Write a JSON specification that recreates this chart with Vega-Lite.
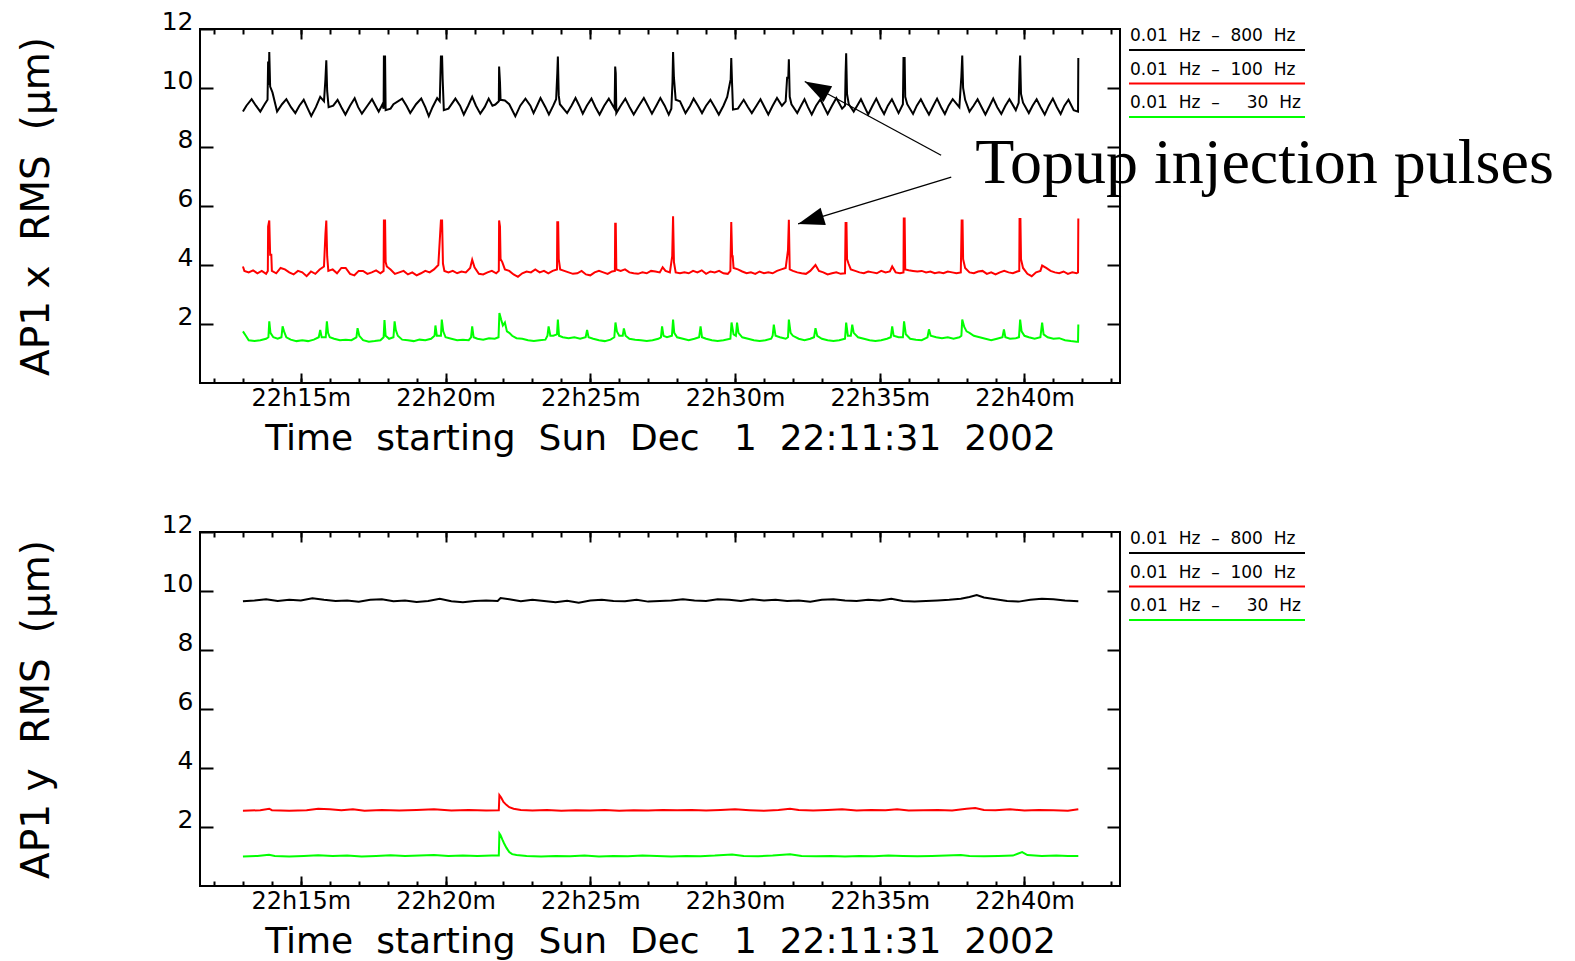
{
  "$schema": "https://vega.github.io/schema/vega-lite/v6.json",
  "padding": {"left": 15, "top": 8, "right": 5, "bottom": 5},
  "background": "white",
  "config": {
    "font": "DejaVu Sans",
    "view": {"stroke": "#000000", "strokeWidth": 2},
    "axis": {"grid": false, "domain": false, "tickColor": "#000000", "tickWidth": 2, "labelColor": "#000000", "titleColor": "#000000", "titleFontWeight": "normal", "labelOverlap": false, "labelFlush": false, "labelFont": "DejaVu Sans", "titleFont": "DejaVu Sans"}
  },
  "datasets": {
    "x800": [{"t":13.00,"v":9.20},{"t":13.12,"v":9.40},{"t":13.30,"v":9.62},{"t":13.45,"v":9.40},{"t":13.60,"v":9.20},{"t":13.75,"v":9.45},{"t":13.85,"v":9.60},{"t":13.87,"v":10.90},{"t":13.89,"v":10.10},{"t":13.91,"v":11.22},{"t":13.94,"v":10.05},{"t":14.02,"v":9.85},{"t":14.18,"v":9.20},{"t":14.35,"v":9.45},{"t":14.50,"v":9.62},{"t":14.66,"v":9.35},{"t":14.81,"v":9.15},{"t":14.95,"v":9.40},{"t":15.10,"v":9.60},{"t":15.24,"v":9.30},{"t":15.36,"v":9.05},{"t":15.52,"v":9.35},{"t":15.67,"v":9.70},{"t":15.80,"v":9.55},{"t":15.85,"v":10.30},{"t":15.88,"v":10.94},{"t":15.91,"v":9.90},{"t":15.96,"v":9.35},{"t":16.12,"v":9.40},{"t":16.27,"v":9.60},{"t":16.40,"v":9.35},{"t":16.54,"v":9.10},{"t":16.70,"v":9.40},{"t":16.86,"v":9.65},{"t":16.98,"v":9.35},{"t":17.11,"v":9.13},{"t":17.30,"v":9.40},{"t":17.46,"v":9.62},{"t":17.58,"v":9.40},{"t":17.69,"v":9.20},{"t":17.82,"v":9.45},{"t":17.86,"v":9.30},{"t":17.87,"v":11.07},{"t":17.91,"v":11.07},{"t":17.93,"v":9.25},{"t":18.10,"v":9.30},{"t":18.20,"v":9.45},{"t":18.50,"v":9.64},{"t":18.65,"v":9.40},{"t":18.78,"v":9.15},{"t":18.98,"v":9.45},{"t":19.16,"v":9.64},{"t":19.30,"v":9.35},{"t":19.42,"v":9.05},{"t":19.55,"v":9.35},{"t":19.71,"v":9.66},{"t":19.80,"v":9.55},{"t":19.84,"v":11.07},{"t":19.88,"v":11.07},{"t":19.90,"v":10.30},{"t":19.94,"v":9.25},{"t":20.10,"v":9.30},{"t":20.34,"v":9.64},{"t":20.50,"v":9.40},{"t":20.63,"v":9.10},{"t":20.78,"v":9.40},{"t":20.92,"v":9.70},{"t":21.05,"v":9.40},{"t":21.20,"v":9.13},{"t":21.35,"v":9.35},{"t":21.49,"v":9.64},{"t":21.62,"v":9.40},{"t":21.72,"v":9.44},{"t":21.84,"v":9.55},{"t":21.85,"v":10.73},{"t":21.88,"v":10.20},{"t":21.90,"v":9.60},{"t":22.05,"v":9.58},{"t":22.20,"v":9.45},{"t":22.41,"v":9.04},{"t":22.58,"v":9.40},{"t":22.76,"v":9.64},{"t":22.93,"v":9.40},{"t":23.04,"v":9.15},{"t":23.16,"v":9.40},{"t":23.28,"v":9.66},{"t":23.45,"v":9.35},{"t":23.57,"v":9.10},{"t":23.72,"v":9.40},{"t":23.82,"v":9.62},{"t":23.86,"v":10.50},{"t":23.88,"v":11.07},{"t":23.91,"v":9.75},{"t":23.95,"v":9.45},{"t":24.20,"v":9.15},{"t":24.35,"v":9.40},{"t":24.49,"v":9.66},{"t":24.62,"v":9.40},{"t":24.74,"v":9.13},{"t":24.88,"v":9.40},{"t":25.04,"v":9.64},{"t":25.18,"v":9.35},{"t":25.32,"v":9.10},{"t":25.48,"v":9.40},{"t":25.64,"v":9.64},{"t":25.78,"v":9.40},{"t":25.84,"v":9.30},{"t":25.86,"v":10.73},{"t":25.88,"v":10.50},{"t":25.90,"v":9.15},{"t":26.05,"v":9.40},{"t":26.21,"v":9.64},{"t":26.36,"v":9.35},{"t":26.50,"v":9.10},{"t":26.68,"v":9.40},{"t":26.85,"v":9.66},{"t":26.99,"v":9.40},{"t":27.13,"v":9.13},{"t":27.28,"v":9.40},{"t":27.42,"v":9.66},{"t":27.57,"v":9.40},{"t":27.71,"v":9.10},{"t":27.80,"v":9.30},{"t":27.84,"v":10.20},{"t":27.86,"v":11.22},{"t":27.89,"v":10.35},{"t":27.95,"v":9.60},{"t":28.10,"v":9.55},{"t":28.29,"v":9.15},{"t":28.45,"v":9.40},{"t":28.57,"v":9.64},{"t":28.72,"v":9.40},{"t":28.86,"v":9.15},{"t":29.00,"v":9.40},{"t":29.15,"v":9.60},{"t":29.30,"v":9.35},{"t":29.44,"v":9.10},{"t":29.60,"v":9.40},{"t":29.73,"v":9.70},{"t":29.85,"v":10.30},{"t":29.87,"v":11.02},{"t":29.90,"v":10.10},{"t":29.93,"v":9.27},{"t":30.10,"v":9.30},{"t":30.30,"v":9.60},{"t":30.45,"v":9.35},{"t":30.58,"v":9.15},{"t":30.74,"v":9.40},{"t":30.88,"v":9.62},{"t":31.02,"v":9.35},{"t":31.15,"v":9.10},{"t":31.30,"v":9.40},{"t":31.45,"v":9.66},{"t":31.62,"v":9.40},{"t":31.75,"v":9.55},{"t":31.80,"v":10.35},{"t":31.84,"v":10.35},{"t":31.86,"v":10.97},{"t":31.89,"v":9.70},{"t":31.95,"v":9.45},{"t":32.15,"v":9.15},{"t":32.28,"v":9.40},{"t":32.40,"v":9.62},{"t":32.52,"v":9.35},{"t":32.65,"v":9.10},{"t":32.80,"v":9.40},{"t":32.95,"v":9.62},{"t":33.08,"v":9.35},{"t":33.20,"v":9.12},{"t":33.35,"v":9.40},{"t":33.50,"v":9.66},{"t":33.70,"v":9.30},{"t":33.80,"v":9.40},{"t":33.82,"v":10.50},{"t":33.84,"v":11.18},{"t":33.87,"v":9.80},{"t":33.93,"v":9.45},{"t":34.10,"v":9.20},{"t":34.22,"v":9.40},{"t":34.35,"v":9.62},{"t":34.48,"v":9.35},{"t":34.60,"v":9.10},{"t":34.75,"v":9.40},{"t":34.88,"v":9.64},{"t":35.02,"v":9.35},{"t":35.15,"v":9.12},{"t":35.28,"v":9.40},{"t":35.42,"v":9.62},{"t":35.65,"v":9.15},{"t":35.80,"v":9.45},{"t":35.82,"v":11.02},{"t":35.86,"v":11.02},{"t":35.88,"v":9.70},{"t":35.95,"v":9.45},{"t":36.15,"v":9.12},{"t":36.28,"v":9.40},{"t":36.42,"v":9.62},{"t":36.56,"v":9.35},{"t":36.70,"v":9.10},{"t":36.85,"v":9.40},{"t":36.98,"v":9.64},{"t":37.12,"v":9.35},{"t":37.25,"v":9.12},{"t":37.38,"v":9.40},{"t":37.52,"v":9.62},{"t":37.75,"v":9.35},{"t":37.82,"v":10.40},{"t":37.85,"v":11.10},{"t":37.88,"v":10.00},{"t":37.95,"v":9.60},{"t":38.10,"v":9.20},{"t":38.24,"v":9.40},{"t":38.38,"v":9.62},{"t":38.52,"v":9.35},{"t":38.65,"v":9.10},{"t":38.80,"v":9.40},{"t":38.92,"v":9.64},{"t":39.06,"v":9.35},{"t":39.20,"v":9.12},{"t":39.34,"v":9.40},{"t":39.48,"v":9.62},{"t":39.70,"v":9.25},{"t":39.80,"v":9.50},{"t":39.83,"v":10.60},{"t":39.85,"v":11.10},{"t":39.88,"v":9.80},{"t":39.95,"v":9.50},{"t":40.15,"v":9.15},{"t":40.28,"v":9.40},{"t":40.42,"v":9.62},{"t":40.56,"v":9.35},{"t":40.70,"v":9.10},{"t":40.84,"v":9.40},{"t":40.98,"v":9.64},{"t":41.12,"v":9.35},{"t":41.25,"v":9.12},{"t":41.38,"v":9.40},{"t":41.52,"v":9.60},{"t":41.70,"v":9.25},{"t":41.85,"v":9.20},{"t":41.86,"v":11.02}],
    "x100": [{"t":13.00,"v":3.95},{"t":13.05,"v":3.80},{"t":13.20,"v":3.75},{"t":13.35,"v":3.82},{"t":13.50,"v":3.72},{"t":13.65,"v":3.80},{"t":13.80,"v":3.70},{"t":13.86,"v":3.80},{"t":13.87,"v":5.30},{"t":13.91,"v":5.51},{"t":13.94,"v":4.35},{"t":13.98,"v":4.35},{"t":14.00,"v":3.80},{"t":14.15,"v":3.72},{"t":14.30,"v":3.90},{"t":14.45,"v":3.85},{"t":14.60,"v":3.75},{"t":14.75,"v":3.68},{"t":14.90,"v":3.80},{"t":15.05,"v":3.75},{"t":15.20,"v":3.62},{"t":15.35,"v":3.78},{"t":15.50,"v":3.70},{"t":15.65,"v":3.85},{"t":15.80,"v":3.95},{"t":15.85,"v":5.05},{"t":15.88,"v":5.51},{"t":15.91,"v":4.30},{"t":15.95,"v":3.80},{"t":16.10,"v":3.85},{"t":16.25,"v":3.72},{"t":16.40,"v":3.90},{"t":16.55,"v":3.90},{"t":16.70,"v":3.70},{"t":16.85,"v":3.65},{"t":17.00,"v":3.80},{"t":17.15,"v":3.80},{"t":17.30,"v":3.70},{"t":17.45,"v":3.75},{"t":17.60,"v":3.82},{"t":17.75,"v":3.72},{"t":17.86,"v":3.80},{"t":17.87,"v":5.51},{"t":17.91,"v":5.51},{"t":17.93,"v":4.10},{"t":17.97,"v":3.95},{"t":18.10,"v":3.85},{"t":18.25,"v":3.70},{"t":18.40,"v":3.75},{"t":18.55,"v":3.80},{"t":18.70,"v":3.68},{"t":18.85,"v":3.75},{"t":19.00,"v":3.65},{"t":19.15,"v":3.72},{"t":19.30,"v":3.80},{"t":19.45,"v":3.75},{"t":19.60,"v":3.85},{"t":19.75,"v":4.00},{"t":19.84,"v":5.51},{"t":19.88,"v":5.51},{"t":19.91,"v":4.05},{"t":19.96,"v":3.80},{"t":20.10,"v":3.75},{"t":20.25,"v":3.80},{"t":20.40,"v":3.72},{"t":20.55,"v":3.78},{"t":20.70,"v":3.75},{"t":20.85,"v":3.90},{"t":20.92,"v":4.18},{"t":21.00,"v":3.92},{"t":21.15,"v":3.70},{"t":21.30,"v":3.68},{"t":21.45,"v":3.75},{"t":21.60,"v":3.80},{"t":21.75,"v":3.72},{"t":21.84,"v":3.80},{"t":21.85,"v":5.51},{"t":21.88,"v":5.30},{"t":21.90,"v":4.20},{"t":21.96,"v":4.10},{"t":22.05,"v":3.85},{"t":22.20,"v":3.80},{"t":22.35,"v":3.68},{"t":22.50,"v":3.60},{"t":22.65,"v":3.72},{"t":22.80,"v":3.78},{"t":22.95,"v":3.75},{"t":23.10,"v":3.85},{"t":23.25,"v":3.75},{"t":23.40,"v":3.80},{"t":23.55,"v":3.72},{"t":23.70,"v":3.80},{"t":23.85,"v":3.85},{"t":23.86,"v":5.45},{"t":23.89,"v":5.45},{"t":23.91,"v":4.20},{"t":23.96,"v":3.85},{"t":24.10,"v":3.80},{"t":24.25,"v":3.75},{"t":24.40,"v":3.70},{"t":24.55,"v":3.72},{"t":24.70,"v":3.80},{"t":24.85,"v":3.68},{"t":25.00,"v":3.65},{"t":25.15,"v":3.75},{"t":25.30,"v":3.80},{"t":25.45,"v":3.75},{"t":25.60,"v":3.70},{"t":25.75,"v":3.78},{"t":25.85,"v":3.80},{"t":25.86,"v":5.40},{"t":25.88,"v":5.40},{"t":25.90,"v":3.85},{"t":26.05,"v":3.80},{"t":26.20,"v":3.85},{"t":26.35,"v":3.75},{"t":26.50,"v":3.72},{"t":26.65,"v":3.70},{"t":26.80,"v":3.75},{"t":26.95,"v":3.72},{"t":27.10,"v":3.80},{"t":27.25,"v":3.78},{"t":27.40,"v":3.75},{"t":27.50,"v":3.92},{"t":27.60,"v":3.80},{"t":27.75,"v":3.75},{"t":27.83,"v":4.30},{"t":27.86,"v":5.65},{"t":27.89,"v":4.10},{"t":27.95,"v":3.75},{"t":28.10,"v":3.72},{"t":28.25,"v":3.75},{"t":28.40,"v":3.72},{"t":28.55,"v":3.80},{"t":28.70,"v":3.75},{"t":28.85,"v":3.82},{"t":29.00,"v":3.70},{"t":29.15,"v":3.78},{"t":29.30,"v":3.75},{"t":29.45,"v":3.80},{"t":29.60,"v":3.72},{"t":29.75,"v":3.70},{"t":29.84,"v":3.80},{"t":29.85,"v":4.40},{"t":29.87,"v":5.46},{"t":29.90,"v":4.30},{"t":29.92,"v":4.30},{"t":29.95,"v":3.90},{"t":30.10,"v":3.85},{"t":30.25,"v":3.78},{"t":30.40,"v":3.72},{"t":30.55,"v":3.75},{"t":30.70,"v":3.70},{"t":30.85,"v":3.78},{"t":31.00,"v":3.72},{"t":31.15,"v":3.75},{"t":31.30,"v":3.72},{"t":31.45,"v":3.80},{"t":31.60,"v":3.85},{"t":31.75,"v":3.90},{"t":31.83,"v":4.50},{"t":31.86,"v":5.53},{"t":31.89,"v":3.85},{"t":32.00,"v":3.80},{"t":32.15,"v":3.75},{"t":32.30,"v":3.72},{"t":32.45,"v":3.70},{"t":32.60,"v":3.80},{"t":32.78,"v":4.00},{"t":32.90,"v":3.80},{"t":33.05,"v":3.75},{"t":33.20,"v":3.68},{"t":33.35,"v":3.72},{"t":33.50,"v":3.75},{"t":33.65,"v":3.70},{"t":33.80,"v":3.72},{"t":33.82,"v":5.42},{"t":33.85,"v":5.42},{"t":33.87,"v":4.20},{"t":33.92,"v":4.05},{"t":34.00,"v":3.85},{"t":34.15,"v":3.80},{"t":34.30,"v":3.75},{"t":34.45,"v":3.72},{"t":34.60,"v":3.78},{"t":34.75,"v":3.75},{"t":34.90,"v":3.72},{"t":35.05,"v":3.80},{"t":35.20,"v":3.75},{"t":35.35,"v":3.78},{"t":35.43,"v":3.95},{"t":35.55,"v":3.75},{"t":35.70,"v":3.72},{"t":35.82,"v":3.75},{"t":35.83,"v":5.58},{"t":35.86,"v":5.58},{"t":35.88,"v":3.85},{"t":36.00,"v":3.82},{"t":36.15,"v":3.80},{"t":36.30,"v":3.78},{"t":36.45,"v":3.80},{"t":36.60,"v":3.75},{"t":36.75,"v":3.78},{"t":36.90,"v":3.72},{"t":37.05,"v":3.75},{"t":37.20,"v":3.72},{"t":37.35,"v":3.78},{"t":37.50,"v":3.75},{"t":37.65,"v":3.72},{"t":37.80,"v":3.75},{"t":37.83,"v":5.51},{"t":37.86,"v":5.51},{"t":37.88,"v":4.20},{"t":37.95,"v":3.90},{"t":38.10,"v":3.75},{"t":38.25,"v":3.72},{"t":38.40,"v":3.78},{"t":38.55,"v":3.80},{"t":38.70,"v":3.70},{"t":38.85,"v":3.75},{"t":39.00,"v":3.68},{"t":39.15,"v":3.75},{"t":39.30,"v":3.80},{"t":39.45,"v":3.75},{"t":39.60,"v":3.72},{"t":39.75,"v":3.78},{"t":39.82,"v":3.80},{"t":39.83,"v":5.56},{"t":39.86,"v":5.56},{"t":39.88,"v":4.20},{"t":39.95,"v":3.90},{"t":40.10,"v":3.70},{"t":40.25,"v":3.62},{"t":40.40,"v":3.75},{"t":40.55,"v":3.80},{"t":40.61,"v":3.98},{"t":40.75,"v":3.90},{"t":40.90,"v":3.80},{"t":41.05,"v":3.75},{"t":41.20,"v":3.72},{"t":41.35,"v":3.78},{"t":41.50,"v":3.70},{"t":41.65,"v":3.75},{"t":41.80,"v":3.72},{"t":41.85,"v":3.75},{"t":41.86,"v":5.58}],
    "x30": [{"t":13.00,"v":1.75},{"t":13.10,"v":1.60},{"t":13.20,"v":1.45},{"t":13.40,"v":1.42},{"t":13.60,"v":1.45},{"t":13.80,"v":1.50},{"t":13.88,"v":1.55},{"t":13.91,"v":2.09},{"t":13.95,"v":1.70},{"t":14.05,"v":1.55},{"t":14.20,"v":1.50},{"t":14.33,"v":1.55},{"t":14.37,"v":1.92},{"t":14.42,"v":1.75},{"t":14.50,"v":1.55},{"t":14.65,"v":1.47},{"t":14.85,"v":1.42},{"t":15.05,"v":1.45},{"t":15.25,"v":1.42},{"t":15.45,"v":1.47},{"t":15.62,"v":1.55},{"t":15.67,"v":1.80},{"t":15.72,"v":1.55},{"t":15.86,"v":1.55},{"t":15.90,"v":2.09},{"t":15.94,"v":1.70},{"t":16.00,"v":1.55},{"t":16.15,"v":1.50},{"t":16.35,"v":1.45},{"t":16.55,"v":1.47},{"t":16.75,"v":1.45},{"t":16.92,"v":1.55},{"t":16.96,"v":1.86},{"t":17.02,"v":1.60},{"t":17.15,"v":1.45},{"t":17.35,"v":1.40},{"t":17.55,"v":1.42},{"t":17.75,"v":1.45},{"t":17.86,"v":1.55},{"t":17.89,"v":2.13},{"t":17.93,"v":1.60},{"t":18.05,"v":1.50},{"t":18.20,"v":1.55},{"t":18.24,"v":2.09},{"t":18.28,"v":1.80},{"t":18.35,"v":1.60},{"t":18.50,"v":1.47},{"t":18.70,"v":1.45},{"t":18.90,"v":1.42},{"t":19.10,"v":1.47},{"t":19.30,"v":1.45},{"t":19.50,"v":1.50},{"t":19.62,"v":1.60},{"t":19.65,"v":1.95},{"t":19.70,"v":1.60},{"t":19.84,"v":1.60},{"t":19.87,"v":2.15},{"t":19.92,"v":1.75},{"t":20.00,"v":1.55},{"t":20.20,"v":1.50},{"t":20.40,"v":1.45},{"t":20.60,"v":1.47},{"t":20.80,"v":1.45},{"t":20.88,"v":1.55},{"t":20.92,"v":1.92},{"t":20.97,"v":1.55},{"t":21.10,"v":1.50},{"t":21.30,"v":1.47},{"t":21.50,"v":1.52},{"t":21.70,"v":1.50},{"t":21.83,"v":1.55},{"t":21.86,"v":2.37},{"t":21.92,"v":2.15},{"t":21.98,"v":1.95},{"t":22.05,"v":2.05},{"t":22.12,"v":1.75},{"t":22.20,"v":1.70},{"t":22.30,"v":1.60},{"t":22.45,"v":1.52},{"t":22.65,"v":1.50},{"t":22.85,"v":1.45},{"t":23.05,"v":1.42},{"t":23.25,"v":1.45},{"t":23.45,"v":1.47},{"t":23.52,"v":1.60},{"t":23.56,"v":1.92},{"t":23.62,"v":1.60},{"t":23.72,"v":1.60},{"t":23.85,"v":1.65},{"t":23.88,"v":2.15},{"t":23.92,"v":1.60},{"t":24.05,"v":1.55},{"t":24.25,"v":1.52},{"t":24.45,"v":1.55},{"t":24.65,"v":1.50},{"t":24.84,"v":1.55},{"t":24.89,"v":1.80},{"t":24.94,"v":1.55},{"t":25.10,"v":1.50},{"t":25.30,"v":1.45},{"t":25.50,"v":1.42},{"t":25.70,"v":1.47},{"t":25.83,"v":1.55},{"t":25.87,"v":2.05},{"t":25.92,"v":1.75},{"t":26.00,"v":1.60},{"t":26.12,"v":1.60},{"t":26.16,"v":1.85},{"t":26.22,"v":1.60},{"t":26.35,"v":1.50},{"t":26.55,"v":1.47},{"t":26.75,"v":1.45},{"t":26.95,"v":1.42},{"t":27.15,"v":1.45},{"t":27.35,"v":1.50},{"t":27.44,"v":1.55},{"t":27.48,"v":1.92},{"t":27.53,"v":1.60},{"t":27.65,"v":1.55},{"t":27.82,"v":1.60},{"t":27.86,"v":2.15},{"t":27.90,"v":1.70},{"t":28.00,"v":1.55},{"t":28.20,"v":1.50},{"t":28.40,"v":1.45},{"t":28.60,"v":1.50},{"t":28.76,"v":1.55},{"t":28.81,"v":1.92},{"t":28.86,"v":1.55},{"t":29.00,"v":1.50},{"t":29.20,"v":1.45},{"t":29.40,"v":1.42},{"t":29.60,"v":1.45},{"t":29.84,"v":1.50},{"t":29.88,"v":2.05},{"t":29.95,"v":1.65},{"t":30.03,"v":1.60},{"t":30.07,"v":2.05},{"t":30.12,"v":1.70},{"t":30.25,"v":1.55},{"t":30.45,"v":1.50},{"t":30.65,"v":1.45},{"t":30.85,"v":1.42},{"t":31.05,"v":1.45},{"t":31.25,"v":1.50},{"t":31.30,"v":1.60},{"t":31.34,"v":1.98},{"t":31.40,"v":1.60},{"t":31.55,"v":1.55},{"t":31.75,"v":1.50},{"t":31.83,"v":1.55},{"t":31.86,"v":2.15},{"t":31.92,"v":1.70},{"t":32.00,"v":1.60},{"t":32.20,"v":1.50},{"t":32.40,"v":1.45},{"t":32.60,"v":1.50},{"t":32.73,"v":1.55},{"t":32.78,"v":1.86},{"t":32.84,"v":1.60},{"t":33.00,"v":1.50},{"t":33.20,"v":1.45},{"t":33.40,"v":1.42},{"t":33.60,"v":1.45},{"t":33.80,"v":1.50},{"t":33.84,"v":2.05},{"t":33.90,"v":1.60},{"t":34.00,"v":1.60},{"t":34.05,"v":1.98},{"t":34.10,"v":1.70},{"t":34.25,"v":1.55},{"t":34.45,"v":1.50},{"t":34.65,"v":1.45},{"t":34.85,"v":1.42},{"t":35.05,"v":1.45},{"t":35.25,"v":1.50},{"t":35.38,"v":1.55},{"t":35.43,"v":1.92},{"t":35.48,"v":1.60},{"t":35.65,"v":1.55},{"t":35.80,"v":1.55},{"t":35.84,"v":2.09},{"t":35.90,"v":1.65},{"t":36.05,"v":1.50},{"t":36.25,"v":1.47},{"t":36.45,"v":1.45},{"t":36.65,"v":1.55},{"t":36.70,"v":1.82},{"t":36.76,"v":1.60},{"t":36.95,"v":1.55},{"t":37.15,"v":1.52},{"t":37.35,"v":1.55},{"t":37.55,"v":1.50},{"t":37.75,"v":1.55},{"t":37.82,"v":1.60},{"t":37.85,"v":2.15},{"t":37.92,"v":1.90},{"t":38.00,"v":1.75},{"t":38.10,"v":1.70},{"t":38.25,"v":1.60},{"t":38.45,"v":1.55},{"t":38.65,"v":1.50},{"t":38.85,"v":1.45},{"t":39.05,"v":1.50},{"t":39.24,"v":1.55},{"t":39.29,"v":1.82},{"t":39.34,"v":1.55},{"t":39.50,"v":1.50},{"t":39.70,"v":1.52},{"t":39.81,"v":1.55},{"t":39.85,"v":2.15},{"t":39.90,"v":1.75},{"t":40.00,"v":1.60},{"t":40.15,"v":1.55},{"t":40.35,"v":1.50},{"t":40.55,"v":1.55},{"t":40.61,"v":2.05},{"t":40.66,"v":1.65},{"t":40.80,"v":1.55},{"t":41.00,"v":1.50},{"t":41.20,"v":1.52},{"t":41.40,"v":1.45},{"t":41.60,"v":1.42},{"t":41.80,"v":1.40},{"t":41.85,"v":1.40},{"t":41.86,"v":1.98}],
    "y800": [{"t":13.00,"v":9.65},{"t":13.40,"v":9.68},{"t":13.80,"v":9.72},{"t":14.20,"v":9.66},{"t":14.60,"v":9.70},{"t":15.00,"v":9.68},{"t":15.40,"v":9.75},{"t":15.80,"v":9.70},{"t":16.20,"v":9.66},{"t":16.60,"v":9.68},{"t":17.00,"v":9.64},{"t":17.40,"v":9.70},{"t":17.80,"v":9.72},{"t":18.20,"v":9.65},{"t":18.60,"v":9.68},{"t":19.00,"v":9.63},{"t":19.40,"v":9.66},{"t":19.80,"v":9.74},{"t":20.20,"v":9.65},{"t":20.60,"v":9.62},{"t":21.00,"v":9.66},{"t":21.40,"v":9.68},{"t":21.80,"v":9.66},{"t":21.90,"v":9.76},{"t":22.20,"v":9.72},{"t":22.60,"v":9.65},{"t":23.00,"v":9.70},{"t":23.40,"v":9.66},{"t":23.80,"v":9.62},{"t":24.20,"v":9.67},{"t":24.60,"v":9.60},{"t":25.00,"v":9.68},{"t":25.40,"v":9.70},{"t":25.80,"v":9.66},{"t":26.20,"v":9.65},{"t":26.60,"v":9.70},{"t":27.00,"v":9.64},{"t":27.40,"v":9.66},{"t":27.80,"v":9.68},{"t":28.20,"v":9.72},{"t":28.60,"v":9.68},{"t":29.00,"v":9.66},{"t":29.40,"v":9.72},{"t":29.80,"v":9.70},{"t":30.20,"v":9.66},{"t":30.60,"v":9.72},{"t":31.00,"v":9.68},{"t":31.40,"v":9.70},{"t":31.80,"v":9.66},{"t":32.20,"v":9.68},{"t":32.60,"v":9.64},{"t":33.00,"v":9.70},{"t":33.40,"v":9.72},{"t":33.80,"v":9.68},{"t":34.20,"v":9.66},{"t":34.60,"v":9.70},{"t":35.00,"v":9.68},{"t":35.40,"v":9.74},{"t":35.80,"v":9.66},{"t":36.20,"v":9.64},{"t":36.60,"v":9.66},{"t":37.00,"v":9.68},{"t":37.40,"v":9.70},{"t":37.80,"v":9.74},{"t":38.10,"v":9.80},{"t":38.35,"v":9.86},{"t":38.60,"v":9.78},{"t":39.00,"v":9.72},{"t":39.40,"v":9.66},{"t":39.80,"v":9.64},{"t":40.20,"v":9.70},{"t":40.60,"v":9.74},{"t":41.00,"v":9.72},{"t":41.40,"v":9.68},{"t":41.86,"v":9.65}],
    "y100": [{"t":13.00,"v":2.55},{"t":13.60,"v":2.57},{"t":13.91,"v":2.62},{"t":14.00,"v":2.57},{"t":14.60,"v":2.55},{"t":15.20,"v":2.57},{"t":15.60,"v":2.62},{"t":16.00,"v":2.60},{"t":16.40,"v":2.57},{"t":16.80,"v":2.60},{"t":17.20,"v":2.55},{"t":17.80,"v":2.58},{"t":18.40,"v":2.56},{"t":19.00,"v":2.58},{"t":19.60,"v":2.60},{"t":20.20,"v":2.56},{"t":20.80,"v":2.58},{"t":21.40,"v":2.56},{"t":21.84,"v":2.57},{"t":21.86,"v":3.08},{"t":21.92,"v":3.00},{"t":22.00,"v":2.85},{"t":22.10,"v":2.75},{"t":22.20,"v":2.67},{"t":22.35,"v":2.62},{"t":22.60,"v":2.58},{"t":23.00,"v":2.56},{"t":23.50,"v":2.58},{"t":24.00,"v":2.55},{"t":24.50,"v":2.57},{"t":25.00,"v":2.56},{"t":25.50,"v":2.58},{"t":26.00,"v":2.55},{"t":26.50,"v":2.57},{"t":27.00,"v":2.56},{"t":27.50,"v":2.58},{"t":28.00,"v":2.57},{"t":28.50,"v":2.58},{"t":29.00,"v":2.56},{"t":29.50,"v":2.58},{"t":30.00,"v":2.60},{"t":30.50,"v":2.57},{"t":31.00,"v":2.55},{"t":31.50,"v":2.58},{"t":31.90,"v":2.62},{"t":32.20,"v":2.58},{"t":32.70,"v":2.56},{"t":33.20,"v":2.58},{"t":33.70,"v":2.60},{"t":34.20,"v":2.56},{"t":34.70,"v":2.58},{"t":35.20,"v":2.57},{"t":35.60,"v":2.60},{"t":36.00,"v":2.56},{"t":36.50,"v":2.57},{"t":37.00,"v":2.58},{"t":37.50,"v":2.56},{"t":38.00,"v":2.62},{"t":38.30,"v":2.64},{"t":38.60,"v":2.58},{"t":39.00,"v":2.57},{"t":39.50,"v":2.60},{"t":40.00,"v":2.56},{"t":40.50,"v":2.58},{"t":41.00,"v":2.57},{"t":41.50,"v":2.55},{"t":41.86,"v":2.60}],
    "y30": [{"t":13.00,"v":1.00},{"t":13.50,"v":1.02},{"t":13.90,"v":1.06},{"t":14.10,"v":1.02},{"t":14.60,"v":1.00},{"t":15.10,"v":1.02},{"t":15.60,"v":1.04},{"t":16.10,"v":1.02},{"t":16.60,"v":1.03},{"t":17.10,"v":1.00},{"t":17.60,"v":1.02},{"t":18.10,"v":1.04},{"t":18.60,"v":1.02},{"t":19.10,"v":1.03},{"t":19.60,"v":1.05},{"t":20.10,"v":1.02},{"t":20.60,"v":1.03},{"t":21.10,"v":1.02},{"t":21.60,"v":1.03},{"t":21.84,"v":1.03},{"t":21.86,"v":1.78},{"t":21.90,"v":1.72},{"t":21.96,"v":1.58},{"t":22.02,"v":1.45},{"t":22.10,"v":1.30},{"t":22.20,"v":1.15},{"t":22.30,"v":1.08},{"t":22.45,"v":1.05},{"t":22.80,"v":1.02},{"t":23.30,"v":1.00},{"t":23.80,"v":1.02},{"t":24.30,"v":1.01},{"t":24.80,"v":1.03},{"t":25.30,"v":1.00},{"t":25.80,"v":1.02},{"t":26.30,"v":1.01},{"t":26.80,"v":1.03},{"t":27.30,"v":1.02},{"t":27.80,"v":1.00},{"t":28.30,"v":1.02},{"t":28.80,"v":1.01},{"t":29.30,"v":1.03},{"t":29.90,"v":1.07},{"t":30.30,"v":1.02},{"t":30.80,"v":1.01},{"t":31.30,"v":1.03},{"t":31.90,"v":1.08},{"t":32.30,"v":1.02},{"t":32.80,"v":1.01},{"t":33.30,"v":1.02},{"t":33.80,"v":1.00},{"t":34.30,"v":1.02},{"t":34.80,"v":1.01},{"t":35.30,"v":1.03},{"t":35.80,"v":1.02},{"t":36.30,"v":1.01},{"t":36.80,"v":1.02},{"t":37.30,"v":1.03},{"t":37.80,"v":1.05},{"t":38.10,"v":1.02},{"t":38.60,"v":1.01},{"t":39.10,"v":1.02},{"t":39.60,"v":1.03},{"t":39.92,"v":1.15},{"t":40.10,"v":1.05},{"t":40.60,"v":1.02},{"t":41.10,"v":1.03},{"t":41.50,"v":1.02},{"t":41.86,"v":1.02}],
    "arrows": [{"target":"800","t":37.12,"v":7.72,"t2":32.41,"v2":10.22},{"target":"100","t":37.47,"v":6.98,"t2":32.18,"v2":5.39}],
    "legend": [{"band":"800","label":"0.01\u00a0 Hz\u00a0 –\u00a0 800\u00a0 Hz"},{"band":"100","label":"0.01\u00a0 Hz\u00a0 –\u00a0 100\u00a0 Hz"},{"band":"30","label":"0.01\u00a0 Hz\u00a0 –\u00a0 \u00a0\u00a0\u00a030\u00a0 Hz"}]
  },
  "spacing": 54,
  "vconcat": [
    {
      "spacing": 9,
      "bounds": "flush",
      "hconcat": [
        {
          "width": 920,
          "height": 354,
          "resolve": {"axis": {"x": "independent", "y": "independent"}},
          "layer": [
            {"data": {"name": "x800"}, "mark": {"type": "line", "color": "#000000", "strokeWidth": 2},
             "encoding": {
               "x": {"field": "t", "type": "quantitative", "scale": {"domain": [11.5167, 43.3], "nice": false, "zero": false},
                     "axis": {"orient": "bottom", "values": [15, 20, 25, 30, 35, 40], "labelExpr": "'22h' + datum.value + 'm'", "tickSize": -10, "labelPadding": 13, "labelFontSize": 24, "title": "Time\u00a0 starting\u00a0 Sun\u00a0 Dec\u00a0 \u00a01\u00a0 22:11:31\u00a0 2002", "titleFontSize": 36, "titleY": 66, "titleBaseline": "alphabetic"}},
               "y": {"field": "v", "type": "quantitative", "scale": {"domain": [0, 12], "nice": false, "zero": false},
                     "axis": {"orient": "left", "values": [2, 4, 6, 8, 10, 12], "tickSize": -13, "labelPadding": 20, "labelFontSize": 25, "labelBaseline": "alphabetic", "title": "AP1\u00a0x\u00a0 RMS\u00a0 (μm)", "titleFontSize": 39, "titleX": -164, "titleY": 177, "titleAngle": -90, "titleAlign": "center", "titleBaseline": "middle"}}
             }},
            {"data": {"name": "x100"}, "mark": {"type": "line", "color": "#ff0000", "strokeWidth": 2},
             "encoding": {
               "x": {"field": "t", "type": "quantitative", "scale": {"domain": [11.5167, 43.3], "nice": false, "zero": false},
                     "axis": {"orient": "bottom", "values": [12,13,14,15,16,17,18,19,20,21,22,23,24,25,26,27,28,29,30,31,32,33,34,35,36,37,38,39,40,41,42,43], "tickSize": -5, "labels": false, "title": null}},
               "y": {"field": "v", "type": "quantitative", "scale": {"domain": [0, 12], "nice": false, "zero": false},
                     "axis": {"orient": "right", "values": [2, 4, 6, 8, 10], "tickSize": -13, "labels": false, "title": null}}
             }},
            {"data": {"name": "x30"}, "mark": {"type": "line", "color": "#00ff00", "strokeWidth": 2},
             "encoding": {
               "x": {"field": "t", "type": "quantitative", "scale": {"domain": [11.5167, 43.3], "nice": false, "zero": false},
                     "axis": {"orient": "top", "values": [15, 20, 25, 30, 35, 40], "tickSize": -10, "labels": false, "title": null}},
               "y": {"field": "v", "type": "quantitative", "scale": {"domain": [0, 12], "nice": false, "zero": false}, "axis": null}
             }},
            {"data": {"name": "arrows"}, "mark": {"type": "rule", "color": "#000000", "strokeWidth": 1.3},
             "encoding": {
               "x": {"field": "t", "type": "quantitative", "scale": {"domain": [11.5167, 43.3], "nice": false, "zero": false},
                     "axis": {"orient": "top", "values": [12,13,14,15,16,17,18,19,20,21,22,23,24,25,26,27,28,29,30,31,32,33,34,35,36,37,38,39,40,41,42,43], "tickSize": -5, "labels": false, "title": null}},
               "y": {"field": "v", "type": "quantitative", "scale": {"domain": [0, 12], "nice": false, "zero": false}, "axis": null},
               "x2": {"field": "t2"},
               "y2": {"field": "v2"}
             }},
            {"data": {"name": "arrows"}, "transform": [{"filter": "datum.target == '800'"}],
             "mark": {"type": "point", "shape": "M0,0L1.2,3.5L-1.2,3.5Z", "filled": true, "size": 225, "color": "#000000", "opacity": 1, "strokeWidth": 0, "angle": 298.5},
             "encoding": {
               "x": {"field": "t2", "type": "quantitative", "scale": {"domain": [11.5167, 43.3], "nice": false, "zero": false}, "axis": null},
               "y": {"field": "v2", "type": "quantitative", "scale": {"domain": [0, 12], "nice": false, "zero": false}, "axis": null}
             }},
            {"data": {"name": "arrows"}, "transform": [{"filter": "datum.target == '100'"}],
             "mark": {"type": "point", "shape": "M0,0L1.2,3.5L-1.2,3.5Z", "filled": true, "size": 225, "color": "#000000", "opacity": 1, "strokeWidth": 0, "angle": 253},
             "encoding": {
               "x": {"field": "t2", "type": "quantitative", "scale": {"domain": [11.5167, 43.3], "nice": false, "zero": false}, "axis": null},
               "y": {"field": "v2", "type": "quantitative", "scale": {"domain": [0, 12], "nice": false, "zero": false}, "axis": null}
             }},
            {"data": {"values": [{"note": "Topup injection pulses", "t": 38.30, "v": 6.78}]},
             "mark": {"type": "text", "font": "Liberation Serif", "fontSize": 64, "align": "left", "baseline": "alphabetic", "color": "#000000"},
             "encoding": {
               "x": {"field": "t", "type": "quantitative", "scale": {"domain": [11.5167, 43.3], "nice": false, "zero": false}, "axis": null},
               "y": {"field": "v", "type": "quantitative", "scale": {"domain": [0, 12], "nice": false, "zero": false}, "axis": null},
               "text": {"field": "note"}
             }}
          ]
        },
        {
          "width": 176,
          "height": 100,
          "view": {"stroke": null},
          "data": {"name": "legend"},
          "layer": [
            {"mark": {"type": "rule", "strokeWidth": 2},
             "encoding": {
               "y": {"field": "band", "type": "nominal", "scale": {"type": "point", "domain": ["800", "100", "30"], "range": [21, 88], "padding": 0}, "axis": null},
               "color": {"field": "band", "type": "nominal", "scale": {"domain": ["800", "100", "30"], "range": ["#000000", "#ff0000", "#00ff00"]}, "legend": null}
             }},
            {"mark": {"type": "text", "align": "left", "baseline": "alphabetic", "dy": -9, "x": 1, "fontSize": 17, "color": "#000000"},
             "encoding": {
               "y": {"field": "band", "type": "nominal", "scale": {"type": "point", "domain": ["800", "100", "30"], "range": [21, 88], "padding": 0}, "axis": null},
               "text": {"field": "label"}
             }}
          ]
        }
      ]
    },
    {
      "spacing": 9,
      "bounds": "flush",
      "hconcat": [
        {
          "width": 920,
          "height": 354,
          "resolve": {"axis": {"x": "independent", "y": "independent"}},
          "layer": [
            {"data": {"name": "y800"}, "mark": {"type": "line", "color": "#000000", "strokeWidth": 2},
             "encoding": {
               "x": {"field": "t", "type": "quantitative", "scale": {"domain": [11.5167, 43.3], "nice": false, "zero": false},
                     "axis": {"orient": "bottom", "values": [15, 20, 25, 30, 35, 40], "labelExpr": "'22h' + datum.value + 'm'", "tickSize": -10, "labelPadding": 13, "labelFontSize": 24, "title": "Time\u00a0 starting\u00a0 Sun\u00a0 Dec\u00a0 \u00a01\u00a0 22:11:31\u00a0 2002", "titleFontSize": 36, "titleY": 66, "titleBaseline": "alphabetic"}},
               "y": {"field": "v", "type": "quantitative", "scale": {"domain": [0, 12], "nice": false, "zero": false},
                     "axis": {"orient": "left", "values": [2, 4, 6, 8, 10, 12], "tickSize": -13, "labelPadding": 20, "labelFontSize": 25, "labelBaseline": "alphabetic", "title": "AP1\u00a0y\u00a0 RMS\u00a0 (μm)", "titleFontSize": 39, "titleX": -164, "titleY": 177, "titleAngle": -90, "titleAlign": "center", "titleBaseline": "middle"}}
             }},
            {"data": {"name": "y100"}, "mark": {"type": "line", "color": "#ff0000", "strokeWidth": 2},
             "encoding": {
               "x": {"field": "t", "type": "quantitative", "scale": {"domain": [11.5167, 43.3], "nice": false, "zero": false},
                     "axis": {"orient": "bottom", "values": [12,13,14,15,16,17,18,19,20,21,22,23,24,25,26,27,28,29,30,31,32,33,34,35,36,37,38,39,40,41,42,43], "tickSize": -5, "labels": false, "title": null}},
               "y": {"field": "v", "type": "quantitative", "scale": {"domain": [0, 12], "nice": false, "zero": false},
                     "axis": {"orient": "right", "values": [2, 4, 6, 8, 10], "tickSize": -13, "labels": false, "title": null}}
             }},
            {"data": {"name": "y30"}, "mark": {"type": "line", "color": "#00ff00", "strokeWidth": 2},
             "encoding": {
               "x": {"field": "t", "type": "quantitative", "scale": {"domain": [11.5167, 43.3], "nice": false, "zero": false},
                     "axis": {"orient": "top", "values": [15, 20, 25, 30, 35, 40], "tickSize": -10, "labels": false, "title": null}},
               "y": {"field": "v", "type": "quantitative", "scale": {"domain": [0, 12], "nice": false, "zero": false}, "axis": null}
             }},
            {"data": {"name": "y30"}, "mark": {"type": "line", "strokeOpacity": 0},
             "encoding": {
               "x": {"field": "t", "type": "quantitative", "scale": {"domain": [11.5167, 43.3], "nice": false, "zero": false},
                     "axis": {"orient": "top", "values": [12,13,14,15,16,17,18,19,20,21,22,23,24,25,26,27,28,29,30,31,32,33,34,35,36,37,38,39,40,41,42,43], "tickSize": -5, "labels": false, "title": null}},
               "y": {"field": "v", "type": "quantitative", "scale": {"domain": [0, 12], "nice": false, "zero": false}, "axis": null}
             }}
          ]
        },
        {
          "width": 176,
          "height": 100,
          "view": {"stroke": null},
          "data": {"name": "legend"},
          "layer": [
            {"mark": {"type": "rule", "strokeWidth": 2},
             "encoding": {
               "y": {"field": "band", "type": "nominal", "scale": {"type": "point", "domain": ["800", "100", "30"], "range": [21, 88], "padding": 0}, "axis": null},
               "color": {"field": "band", "type": "nominal", "scale": {"domain": ["800", "100", "30"], "range": ["#000000", "#ff0000", "#00ff00"]}, "legend": null}
             }},
            {"mark": {"type": "text", "align": "left", "baseline": "alphabetic", "dy": -9, "x": 1, "fontSize": 17, "color": "#000000"},
             "encoding": {
               "y": {"field": "band", "type": "nominal", "scale": {"type": "point", "domain": ["800", "100", "30"], "range": [21, 88], "padding": 0}, "axis": null},
               "text": {"field": "label"}
             }}
          ]
        }
      ]
    }
  ]
}
